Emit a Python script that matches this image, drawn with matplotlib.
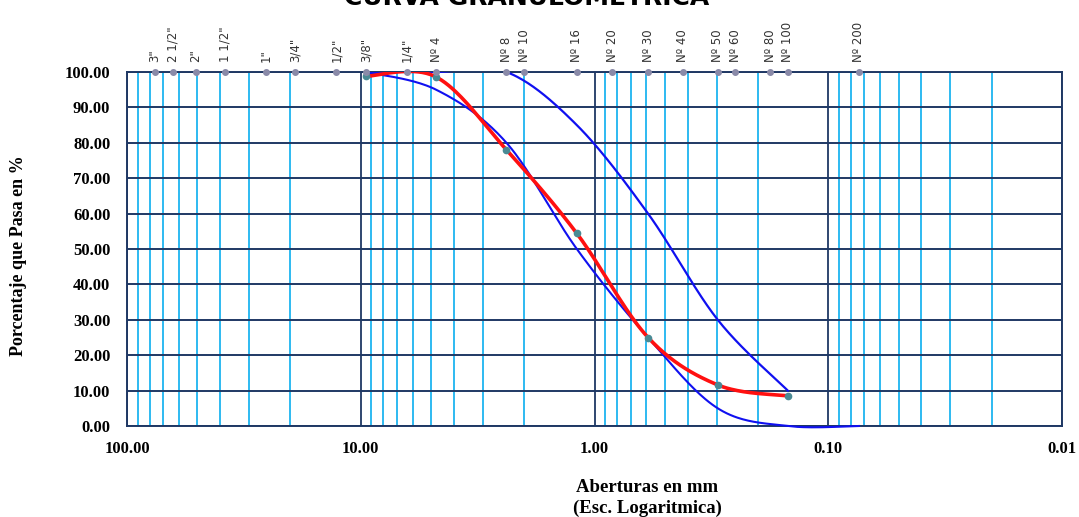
import matplotlib
matplotlib.use('Agg')
import matplotlib.pyplot as plt
import numpy as np
from matplotlib.ticker import FixedLocator, FuncFormatter, NullLocator

# sieve series (mm)
sieve_names = ['3"', '2 1/2"', '2"', '1 1/2"', '1"', '3/4"', '1/2"', '3/8"', '1/4"', 'Nº 4',
               'Nº 8', 'Nº 10', 'Nº 16', 'Nº 20', 'Nº 30', 'Nº 40', 'Nº 50', 'Nº 60', 'Nº 80',
               'Nº 100', 'Nº 200']
sieve_mm = [76.2, 63.5, 50.8, 38.1, 25.4, 19.05, 12.7, 9.525, 6.35, 4.76,
            2.38, 2.0, 1.19, 0.84, 0.59, 0.42, 0.297, 0.25, 0.177, 0.149, 0.074]

# sample gradation (red)
sample_mm = [9.525, 4.76, 2.38, 1.19, 0.59, 0.297, 0.149]
sample_pass = [98.8, 98.6, 78.0, 54.4, 25.0, 11.6, 8.5]

# spec limits (blue)
upper_mm = [9.525, 4.76, 2.38, 1.19, 0.59, 0.297, 0.149]
upper_pass = [100, 100, 100, 85, 60, 30, 10]
lower_mm = [9.525, 4.76, 2.38, 1.19, 0.59, 0.297, 0.149, 0.074]
lower_pass = [100, 95, 80, 50, 25, 5, 0, 0]

W, H = 1079, 517
L, R, B, T = 127, 1062, 426, 72
navy = '#1F3864'
cyan = '#1EB4F0'
serif = 'Liberation Serif'


def smooth(xs, ys, n=40):
    # excel-like smoothed line (bezier through points) in screen-like space
    u = -np.log10(np.array(xs, float)) * (R - L) / 4.0
    v = np.array(ys, float) * (B - T) / 100.0
    P = np.column_stack([u, v])
    P = np.vstack([P[0], P, P[-1]])
    out = []
    for i in range(1, len(P) - 2):
        p0, p1, p2, p3 = P[i - 1], P[i], P[i + 1], P[i + 2]
        c1 = p1 + (p2 - p0) / 6.0
        c2 = p2 - (p3 - p1) / 6.0
        t = np.linspace(0, 1, n)[:, None]
        seg = (1 - t) ** 3 * p1 + 3 * (1 - t) ** 2 * t * c1 + 3 * (1 - t) * t ** 2 * c2 + t ** 3 * p2
        out.append(seg)
    pts = np.vstack(out)
    return 10 ** (-pts[:, 0] * 4.0 / (R - L)), pts[:, 1] * 100.0 / (B - T)


fig = plt.figure(figsize=(W / 100, H / 100), dpi=100)
ax = fig.add_axes([L / W, 1 - B / H, (R - L) / W, (B - T) / H])
ax.set_xscale('log')
ax.set_xlim(100, 0.01)
ax.set_ylim(0, 100)

ax.xaxis.set_major_locator(FixedLocator([100, 10, 1, 0.1, 0.01]))
ax.xaxis.set_minor_locator(FixedLocator([m * 10.0 ** e for e in range(-2, 2) for m in range(2, 10)]))
ax.xaxis.set_major_formatter(FuncFormatter(lambda v, p: '%.2f' % v))
ax.set_yticks(np.arange(0, 101, 10))
ax.yaxis.set_major_formatter(FuncFormatter(lambda v, p: '%.2f' % v))
ax.tick_params(which='both', length=0)
ax.tick_params(axis='x', pad=11)
ax.tick_params(axis='y', pad=12)
for lab in ax.get_xticklabels() + ax.get_yticklabels():
    lab.set_fontfamily(serif)
    lab.set_fontweight('bold')
    lab.set_fontsize(12)

ax.grid(which='minor', axis='x', color=cyan, lw=1.3)
ax.grid(which='major', axis='x', color=navy, lw=1.3)
ax.grid(which='major', axis='y', color=navy, lw=1.4)
ax.set_axisbelow(True)
for s in ax.spines.values():
    s.set_color(navy)
    s.set_linewidth(1.4)

# curves
xl, yl = smooth(lower_mm, lower_pass)
ax.plot(xl, yl, color='#1010F0', lw=1.5, clip_on=False, zorder=3)
xu, yu = smooth(upper_mm, upper_pass)
ax.plot(xu, yu, color='#1010F0', lw=1.6, zorder=3)
xs, ys = smooth(sample_mm, sample_pass)
ax.plot(xs, ys, color='#FF1010', lw=2.6, zorder=4)
ax.plot(sample_mm, sample_pass, 'o', color='#4A8A94', ms=4.5, zorder=5)

# sieve markers on top
ax.plot(sieve_mm, [100] * len(sieve_mm), 'o', color='#8A8AA8', ms=4, clip_on=False, zorder=6)

top = ax.twiny()
top.set_xscale('log')
top.set_xlim(100, 0.01)
top.xaxis.set_major_locator(FixedLocator(sieve_mm))
top.xaxis.set_minor_locator(NullLocator())
top.set_xticklabels(sieve_names, rotation=90, fontsize=8.5, fontfamily='DejaVu Sans', color='#333333')
top.tick_params(length=0, pad=7)
for s in top.spines.values():
    s.set_visible(False)

ax.set_ylabel('Porcentaje que Pasa en %', fontfamily=serif, fontweight='bold', fontsize=13)
ax.yaxis.set_label_coords((27 - L) / (R - L), (B - 256) / (B - T))
fig.text(647 / W, 1 - 487 / H, 'Aberturas en mm', ha='center', va='center',
         fontfamily=serif, fontweight='bold', fontsize=13.5)
fig.text(647 / W, 1 - 508 / H, '(Esc. Logaritmica)', ha='center', va='center',
         fontfamily=serif, fontweight='bold', fontsize=13.5)
fig.text(527 / W, 1 - 5 / H, 'CURVA GRANULOMETRICA', ha='center', va='baseline',
         fontfamily='DejaVu Sans', fontweight='bold', fontsize=18)

fig.savefig('out.png', dpi=100)
